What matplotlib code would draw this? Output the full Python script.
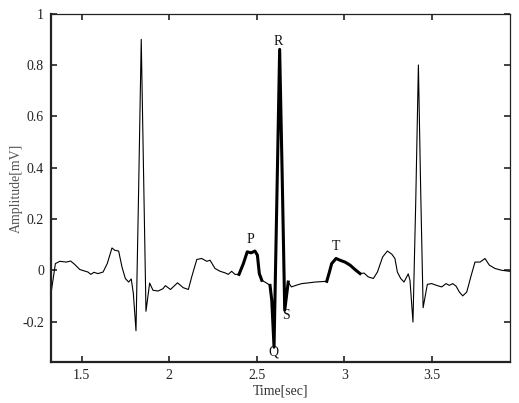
import numpy as np
import matplotlib
matplotlib.use("Agg")
import matplotlib.pyplot as plt

plt.rcParams["font.family"] = ["Liberation Serif", "DejaVu Serif"]

# ECG trace
time = [1.325, 1.336, 1.350, 1.375, 1.412, 1.437, 1.460, 1.489, 1.517, 1.536,
        1.552, 1.570, 1.593, 1.622, 1.646, 1.673, 1.689, 1.711, 1.730, 1.749,
        1.768, 1.783, 1.795, 1.810, 1.824, 1.840, 1.854, 1.867, 1.888, 1.907,
        1.936, 1.964, 1.978, 2.007, 2.047, 2.080, 2.109, 2.128, 2.157, 2.185,
        2.214, 2.233, 2.261, 2.290, 2.318, 2.337, 2.356, 2.375, 2.398, 2.423,
        2.445, 2.467, 2.489, 2.503, 2.514, 2.528, 2.556, 2.575, 2.585, 2.598,
        2.614, 2.630, 2.645, 2.659, 2.679, 2.697, 2.722, 2.756, 2.784, 2.832,
        2.899, 2.914, 2.927, 2.952, 2.975, 3.003, 3.032, 3.060, 3.089, 3.112,
        3.136, 3.165, 3.188, 3.218, 3.245, 3.270, 3.288, 3.302, 3.321, 3.340,
        3.364, 3.374, 3.391, 3.407, 3.422, 3.435, 3.449, 3.473, 3.498, 3.526,
        3.555, 3.580, 3.598, 3.618, 3.637, 3.656, 3.675, 3.698, 3.721, 3.745,
        3.774, 3.802, 3.827, 3.859, 3.897, 3.943]
amp = [-0.090, -0.039, 0.026, 0.035, 0.032, 0.036, 0.023, 0.003, -0.003, -0.007,
       -0.016, -0.008, -0.013, -0.007, 0.026, 0.087, 0.078, 0.075, 0.013, -0.032,
       -0.046, -0.034, -0.091, -0.236, 0.273, 0.901, 0.350, -0.160, -0.050, -0.078,
       -0.081, -0.072, -0.060, -0.075, -0.049, -0.068, -0.075, -0.026, 0.042, 0.046,
       0.035, 0.039, 0.007, -0.004, -0.010, -0.016, -0.004, -0.016, -0.016, 0.026,
       0.072, 0.068, 0.075, 0.059, -0.013, -0.039, -0.050, -0.059, -0.117, -0.300,
       0.273, 0.862, 0.352, -0.156, -0.046, -0.065, -0.059, -0.052, -0.050, -0.046,
       -0.043, -0.007, 0.026, 0.046, 0.039, 0.032, 0.020, 0.003, -0.013, -0.011,
       -0.026, -0.032, -0.007, 0.052, 0.075, 0.063, 0.046, -0.007, -0.032, -0.046,
       -0.014, -0.039, -0.202, 0.273, 0.801, 0.313, -0.146, -0.055, -0.052, -0.059,
       -0.065, -0.052, -0.059, -0.052, -0.062, -0.085, -0.100, -0.085, -0.026, 0.032,
       0.032, 0.046, 0.020, 0.007, 0.000, -0.004]

# highlighted waves of the middle beat (start, end in seconds)
wave_windows = [(2.398, 2.528), (2.575, 2.679), (2.899, 3.089)]

# wave labels
wave_names = ["P", "Q", "R", "S", "T"]
wave_t = [2.465, 2.596, 2.622, 2.665, 2.953]
wave_v = [0.120, -0.319, 0.892, -0.176, 0.091]

xticks = [1.5, 2, 2.5, 3, 3.5]
xtick_labels = ["1.5", "2", "2.5", "3", "3.5"]
yticks = [-0.2, 0, 0.2, 0.4, 0.6, 0.8, 1]
ytick_labels = ["-0.2", "0", "0.2", "0.4", "0.6", "0.8", "1"]

time = np.array(time)
amp = np.array(amp)

fig = plt.figure(figsize=(5.19, 4.03), dpi=100)
ax = fig.add_axes([0.0983, 0.1017, 0.8844, 0.8636])

ax.plot(time, amp, color="black", linewidth=0.8)
for t0, t1 in wave_windows:
    m = (time >= t0) & (time <= t1)
    ax.plot(time[m], amp[m], color="black", linewidth=2.2, solid_joinstyle="round")

for name, t, v in zip(wave_names, wave_t, wave_v):
    ax.text(t, v, name, ha="center", va="center", fontsize=10, color="#111111")

ax.set_xlim(1.325, 3.945)
ax.set_ylim(-0.358, 1.0)
ax.set_xticks(xticks)
ax.set_xticklabels(xtick_labels)
ax.set_yticks(yticks)
ax.set_yticklabels(ytick_labels)
ax.tick_params(direction="in", length=4, width=1.2, labelsize=10,
               top=True, right=True, colors="#222222", pad=5)

for side in ["left", "bottom"]:
    ax.spines[side].set_linewidth(1.6)
for side in ["top", "right"]:
    ax.spines[side].set_linewidth(0.9)
for s in ax.spines.values():
    s.set_color("#222222")

ax.set_xlabel("Time[sec]", fontsize=10, color="#333333", labelpad=2)
ax.set_ylabel("Amplitude[mV]", fontsize=10, color="#555555")
ax.yaxis.set_label_coords(-0.062, 0.5)

fig.savefig("out.png", dpi=100)
